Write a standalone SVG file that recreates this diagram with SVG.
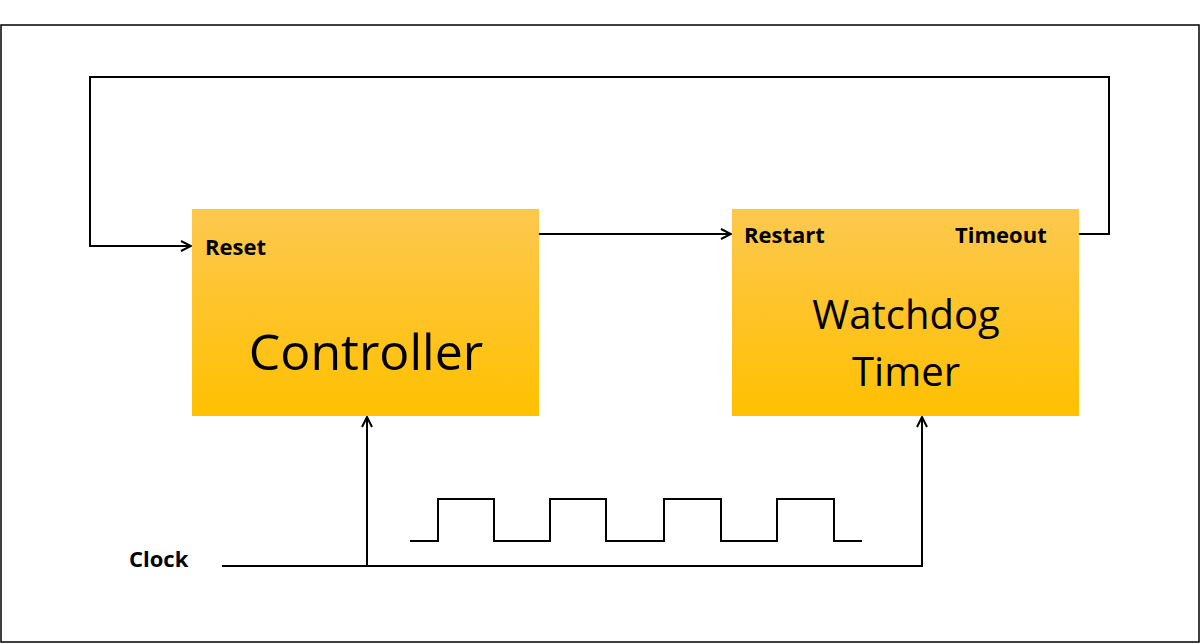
<svg xmlns="http://www.w3.org/2000/svg" width="1200" height="644" viewBox="0 0 1200 644">
<style>
.ln{fill:none;stroke:#000;stroke-width:2}
.lbl{font-family:"Open Sans","Liberation Sans",sans-serif;font-weight:bold;font-size:22px;fill:#000}
.big{font-family:"Open Sans","Liberation Sans",sans-serif;fill:#000;text-anchor:middle}
</style>
<defs>
<linearGradient id="g" x1="0" y1="0" x2="0" y2="1"><stop offset="0" stop-color="#fdc84f"/><stop offset="1" stop-color="#ffc000"/></linearGradient>
<marker id="a" markerWidth="12" markerHeight="12" refX="11" refY="6" orient="auto" markerUnits="userSpaceOnUse"><path d="M1,1 L11,6 L1,11" fill="none" stroke="#000" stroke-width="2"/></marker>
</defs>
<rect x="1" y="25" width="1198" height="617" fill="#fff" stroke="#000" stroke-width="1.5"/>
<g id="controller"><rect x="192" y="209" width="347" height="207" fill="url(#g)"/>
<text class="lbl" x="205" y="255">Reset</text>
<text class="big" x="366" y="370" font-size="50">Controller</text></g>
<g id="watchdog"><rect x="732" y="209" width="347" height="207" fill="url(#g)"/>
<text class="lbl" x="744" y="243">Restart</text>
<text class="lbl" x="955" y="243">Timeout</text>
<text class="big" x="906" y="329" font-size="40">Watchdog</text>
<text class="big" x="906" y="386" font-size="40">Timer</text></g>
<g id="clock"><text class="lbl" x="129" y="567">Clock</text>
<path class="ln" d="M410,541 H438 V499 H494 V541 H550 V499 H606 V541 H664 V499 H721 V541 H777 V499 H834 V541 H862"/></g>
<g id="connectors">
<path class="ln" d="M1079,234 H1109 V77 H90 V246 H191" marker-end="url(#a)"/>
<path class="ln" d="M539,234 H731" marker-end="url(#a)"/>
<path class="ln" d="M222,566 H922 V417" marker-end="url(#a)"/>
<path class="ln" d="M367,566 V417" marker-end="url(#a)"/>
</g>
</svg>
